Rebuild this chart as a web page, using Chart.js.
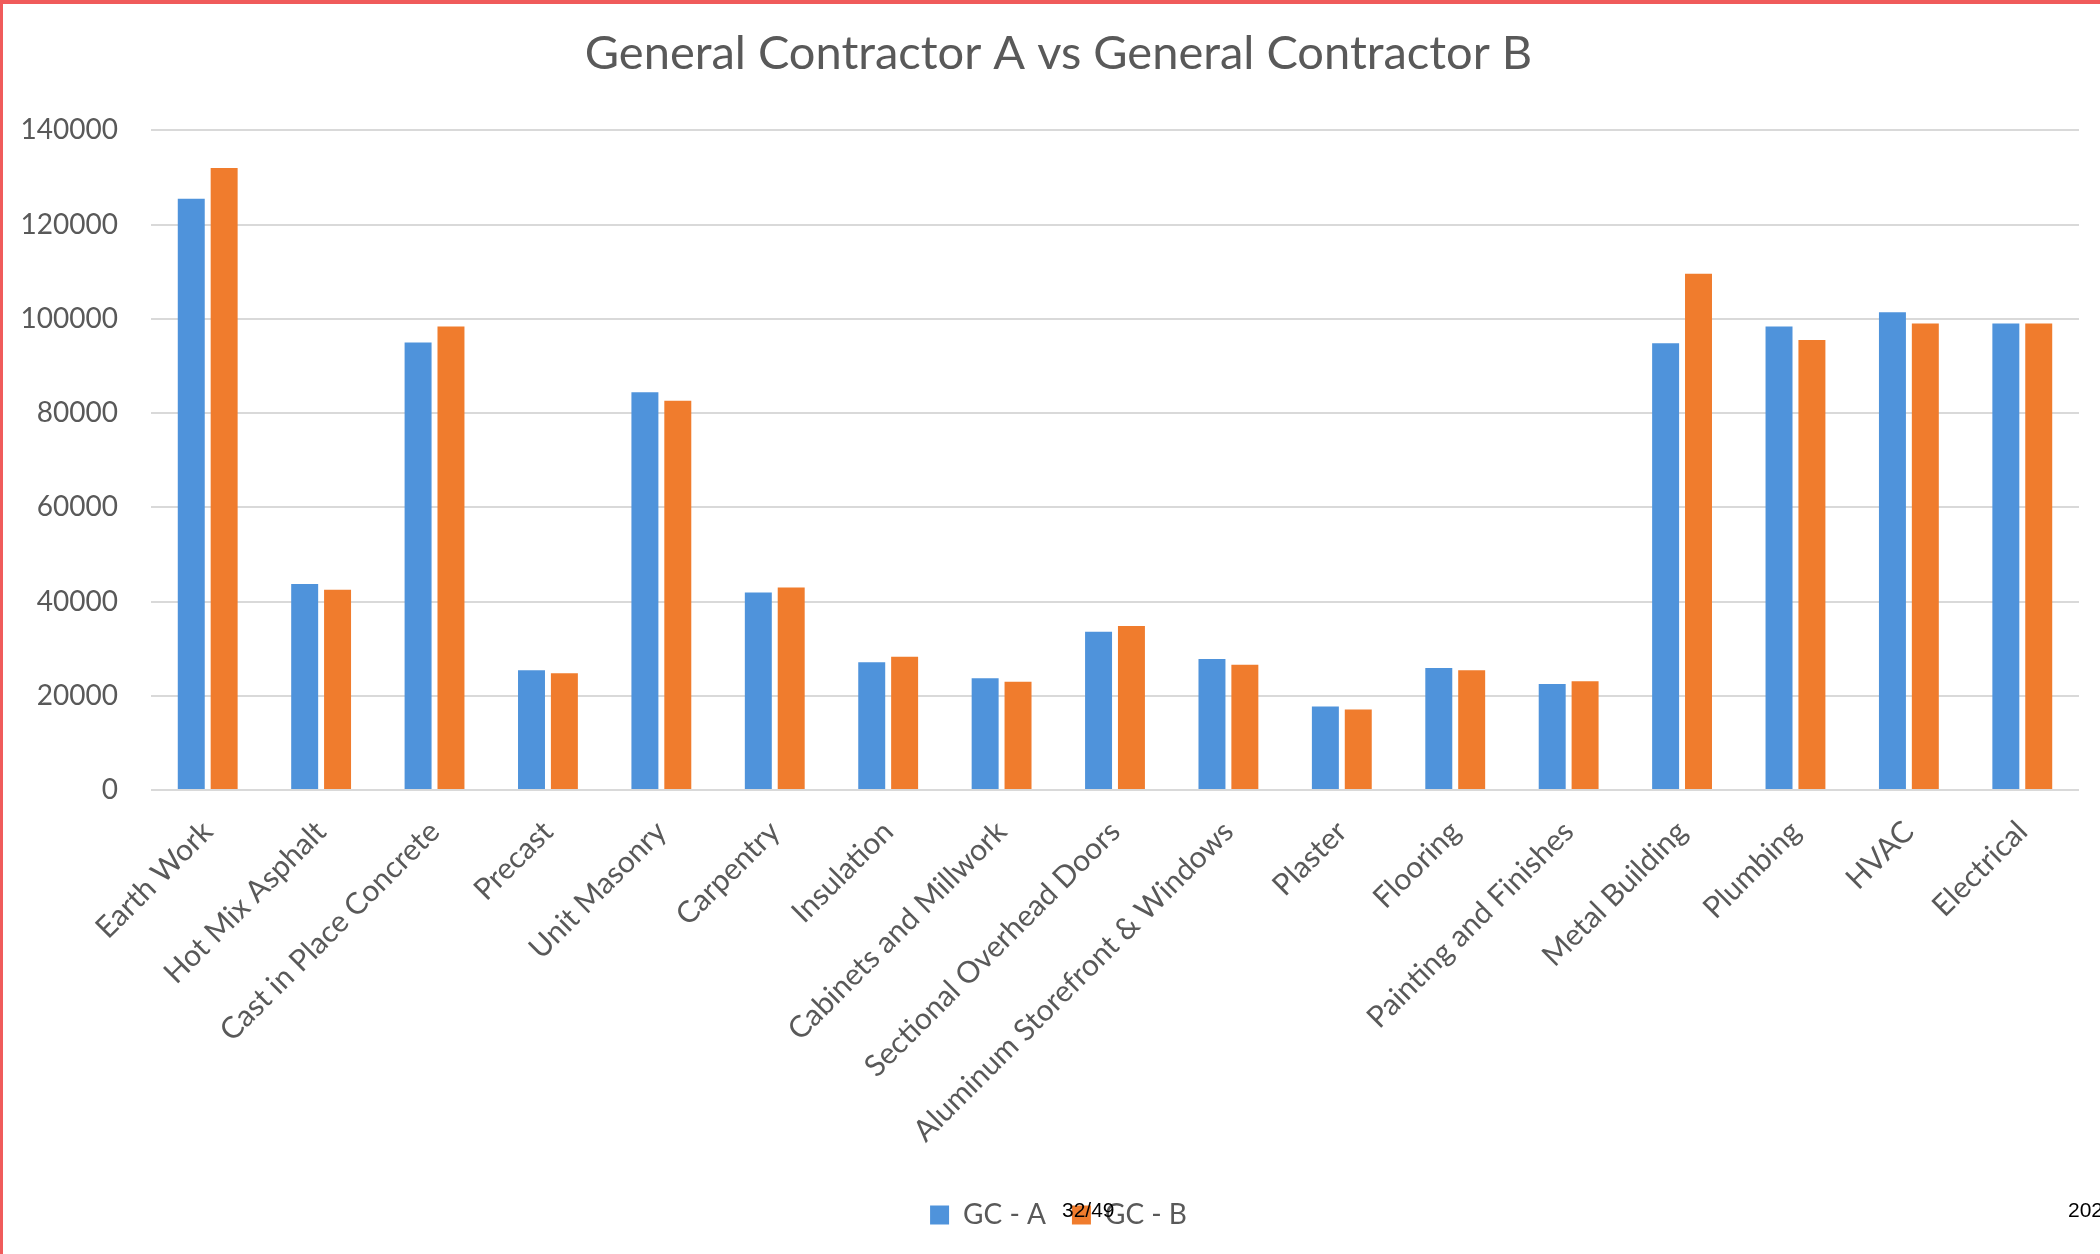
<!DOCTYPE html>
<html lang="en">

<head>
    <meta charset="UTF-8">
    <title>General Contractor A vs General Contractor B</title>
    <script src="https://cdn.jsdelivr.net/npm/chart.js"></script>
    <style>
        html, body {
            margin: 0;
            padding: 0;
            background: #fff;
        }
        .chart-container {
            position: relative;
            width: 2100px;
            height: 1254px;
        }
        .frame {
            position: absolute;
            left: 0;
            top: 0;
            right: 0;
            bottom: 0;
            border-top: 4px solid #f05b5b;
            border-left: 3px solid #f05b5b;
            pointer-events: none;
        }
        .page-note {
            position: absolute;
            font-family: "Liberation Sans", Arial, sans-serif;
            font-size: 21px;
            color: #000;
            white-space: nowrap;
        }
    </style>
</head>

<body>
    <div class="chart-container">
        <canvas id="gcChart" width="2100" height="1254"></canvas>
        <div class="frame"></div>
        <div class="page-note" style="left:1062px; top:1198px;">32/49</div>
        <div class="page-note" style="left:2068px; top:1198px;">202</div>
    </div>

    <script>
        // Trade packages (x axis)
        const categories = [
            'Earth Work', 'Hot Mix Asphalt', 'Cast in Place Concrete', 'Precast',
            'Unit Masonry', 'Carpentry', 'Insulation', 'Cabinets and Millwork',
            'Sectional Overhead Doors', 'Aluminum Storefront & Windows', 'Plaster',
            'Flooring', 'Painting and Finishes', 'Metal Building', 'Plumbing',
            'HVAC', 'Electrical'
        ];

        // Bid values
        const gcA = [125500, 43700, 95000, 25400, 84400, 41900, 27100, 23700, 33600,
            27800, 17700, 25900, 22500, 94800, 98400, 101400, 99000];
        const gcB = [132000, 42500, 98400, 24800, 82600, 43000, 28300, 23000, 34800,
            26600, 17100, 25400, 23100, 109600, 95500, 99000, 99000];

        // Y axis ticks
        const yMin = 0;
        const yMax = 140000;
        const yStep = 20000;

        const textColor = '#595959';
        const fontFamily = 'Lato, "Open Sans", sans-serif';

        // the left layout padding recentres title/legend, but the y labels
        // sit inside it, so widen the y axis label clip back to the edge
        const unclipYLabels = {
            id: 'unclipYLabels',
            afterLayout(chart) {
                chart.scales.y.left = 0;
            }
        };

        const ctx = document.getElementById('gcChart').getContext('2d');

        const chart = new Chart(ctx, {
            type: 'bar',
            data: {
                labels: categories,
                datasets: [
                    {
                        label: 'GC - A',
                        data: gcA,
                        backgroundColor: '#4f93db',
                        categoryPercentage: 0.58,
                        barPercentage: 0.82
                    },
                    {
                        label: 'GC - B',
                        data: gcB,
                        backgroundColor: '#f07c2d',
                        categoryPercentage: 0.58,
                        barPercentage: 0.82
                    }
                ]
            },
            options: {
                responsive: false,
                animation: false,
                layout: {
                    padding: { left: 38, right: 21, top: 0, bottom: 15 }
                },
                scales: {
                    x: {
                        grid: { display: false },
                        border: { display: false },
                        ticks: {
                            autoSkip: false,
                            minRotation: 45,
                            maxRotation: 45,
                            padding: 16,
                            color: textColor,
                            font: { family: fontFamily, size: 30 }
                        },
                        afterFit: (axis) => { axis.height = 385; }
                    },
                    y: {
                        min: yMin,
                        max: yMax,
                        border: { display: false },
                        grid: {
                            color: '#d9d9d9',
                            lineWidth: 2,
                            drawTicks: false
                        },
                        ticks: {
                            stepSize: yStep,
                            padding: 33,
                            color: textColor,
                            font: { family: fontFamily, size: 28 },
                            callback: (value) => String(value)
                        },
                        afterFit: (axis) => { axis.width = 113; }
                    }
                },
                plugins: {
                    title: {
                        display: true,
                        text: 'General Contractor A vs General Contractor B',
                        color: textColor,
                        font: { family: fontFamily, size: 47, weight: 'normal' },
                        padding: { top: 26, bottom: 48 }
                    },
                    legend: {
                        position: 'bottom',
                        labels: {
                            color: textColor,
                            boxWidth: 19,
                            boxHeight: 19,
                            padding: 26,
                            font: { family: fontFamily, size: 28 }
                        }
                    },
                    tooltip: { enabled: false }
                }
            },
            plugins: [unclipYLabels]
        });
    </script>
</body>

</html>
